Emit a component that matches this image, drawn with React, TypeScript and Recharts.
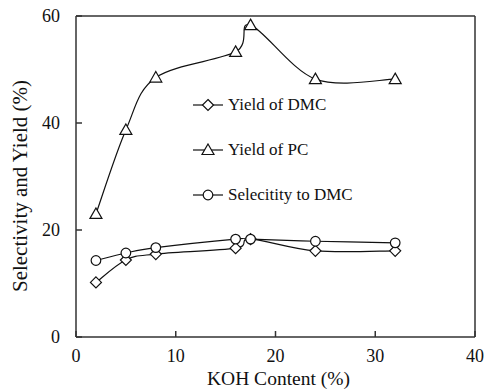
import {
  LineChart,
  Line,
  XAxis,
  YAxis,
  Legend,
  ReferenceLine,
} from "recharts";

const kohContent = [2, 5, 8, 16, 17.5, 24, 32];
const dmcYield = [10.2, 14.4, 15.5, 16.6, 18.3, 16.1, 16.1];
const pcYield = [23, 38.7, 48.5, 53.3, 58.3, 48.2, 48.2];
const dmcSelectivity = [14.3, 15.7, 16.7, 18.3, 18.3, 17.9, 17.6];

const xTicks = [0, 10, 20, 30, 40];
const yTicks = [0, 20, 40, 60];

const data = kohContent.map((koh, i) => ({
  koh,
  dmcYield: dmcYield[i],
  pcYield: pcYield[i],
  dmcSelectivity: dmcSelectivity[i],
}));

const FONT = "Liberation Serif";
const AXIS = "#333";

// Excel-like smoothed line (Catmull-Rom through every point)
function smoothCurve(context: any) {
  let pts: number[][] = [];
  return {
    areaStart() {},
    areaEnd() {},
    lineStart() {
      pts = [];
    },
    point(x: number, y: number) {
      pts.push([+x, +y]);
    },
    lineEnd() {
      if (!pts.length) return;
      context.moveTo(pts[0][0], pts[0][1]);
      for (let i = 0; i < pts.length - 1; i++) {
        const p0 = pts[i - 1] || pts[i];
        const p1 = pts[i];
        const p2 = pts[i + 1];
        const p3 = pts[i + 2] || p2;
        context.bezierCurveTo(
          p1[0] + (p2[0] - p0[0]) / 6,
          p1[1] + (p2[1] - p0[1]) / 6,
          p2[0] - (p3[0] - p1[0]) / 6,
          p2[1] - (p3[1] - p1[1]) / 6,
          p2[0],
          p2[1]
        );
      }
    },
  };
}

type Shape = "diamond" | "triangle" | "circle";

function Marker({ cx, cy, shape }: { cx: number; cy: number; shape: Shape }) {
  const common = { fill: "#fff", stroke: "#111", strokeWidth: 1.2 };
  if (shape === "circle") return <circle cx={cx} cy={cy} r={4.8} {...common} />;
  if (shape === "diamond")
    return (
      <path
        d={`M${cx},${cy - 5.5}L${cx + 5.5},${cy}L${cx},${cy + 5.5}L${cx - 5.5},${cy}Z`}
        {...common}
      />
    );
  return (
    <path
      d={`M${cx},${cy - 6}L${cx + 6},${cy + 4.5}L${cx - 6},${cy + 4.5}Z`}
      {...common}
    />
  );
}

const series: { key: string; name: string; shape: Shape }[] = [
  { key: "dmcYield", name: "Yield of DMC", shape: "diamond" },
  { key: "pcYield", name: "Yield of PC", shape: "triangle" },
  { key: "dmcSelectivity", name: "Selecitity to DMC", shape: "circle" },
];

function LegendBox() {
  return (
    <div style={{ fontFamily: FONT, fontSize: 17, color: "#111" }}>
      {series.map((s) => (
        <div
          key={s.key}
          style={{ display: "flex", alignItems: "center", height: 45 }}
        >
          <svg width={30} height={14}>
            <line x1={0} y1={7} x2={30} y2={7} stroke="#111" strokeWidth={1.2} />
            <Marker cx={15} cy={7} shape={s.shape} />
          </svg>
          <span style={{ marginLeft: 5 }}>{s.name}</span>
        </div>
      ))}
    </div>
  );
}

const tickStyle = { fill: "#111", fontSize: 18, fontFamily: FONT };

const YLabel = () => (
  <text
    x={27}
    y={186}
    transform="rotate(-90 27 186)"
    textAnchor="middle"
    fill="#111"
    fontSize={21}
    fontFamily={FONT}
  >
    Selectivity and Yield (%)
  </text>
);

export default function App() {
  return (
    <div style={{ position: "absolute", left: 0, top: 0, fontFamily: FONT }}>
      <LineChart
        width={487}
        height={389}
        data={data}
        margin={{ top: 16, right: 12, bottom: 0, left: 0 }}
      >
        <XAxis
          dataKey="koh"
          type="number"
          domain={[0, 40]}
          ticks={xTicks}
          stroke={AXIS}
          strokeWidth={1.5}
          tickSize={-6}
          tickMargin={18}
          height={52}
          tick={tickStyle}
          label={{
            value: "KOH Content (%)",
            position: "insideBottom",
            offset: 4,
            dx: 3,
            style: { fill: "#111", fontSize: 19.5, fontFamily: FONT },
          }}
        />
        <YAxis
          type="number"
          domain={[0, 60]}
          ticks={yTicks}
          stroke={AXIS}
          strokeWidth={1.5}
          tickSize={-6}
          tickMargin={22}
          width={76}
          tick={tickStyle}
          label={{ content: YLabel }}
        />
        <ReferenceLine y={60} stroke={AXIS} strokeWidth={1.5} />
        <ReferenceLine x={40} stroke={AXIS} strokeWidth={1.5} />
        <Legend
          layout="vertical"
          align="center"
          verticalAlign="middle"
          content={() => <LegendBox />}
          wrapperStyle={{ left: 193, top: 82, width: "auto" }}
        />
        {series.map((s) => (
          <Line
            key={s.key}
            dataKey={s.key}
            name={s.name}
            type={smoothCurve as any}
            stroke="#111"
            strokeWidth={1.2}
            isAnimationActive={false}
            dot={(p: any) => (
              <Marker key={`${s.key}-${p.index}`} cx={p.cx} cy={p.cy} shape={s.shape} />
            )}
          />
        ))}
      </LineChart>
    </div>
  );
}
